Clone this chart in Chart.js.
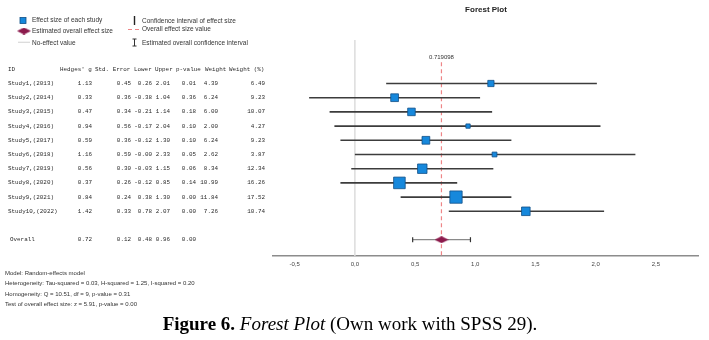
<!DOCTYPE html>
<html>
<head>
<meta charset="utf-8">
<script src="https://cdn.jsdelivr.net/npm/chart.js@4.4.1/dist/chart.umd.min.js"></script>
<style>
    html, body { margin: 0; padding: 0; background: #fff; }
    canvas { display: block; }
</style>
</head>
<body>
<canvas id="forest-plot" width="709" height="340"></canvas>
<script>
// Study level results
const studyIds = ['Study1,(2013)', 'Study2,(2014)', 'Study3,(2015)', 'Study4,(2016)', 'Study5,(2017)',
    'Study6,(2018)', 'Study7,(2019)', 'Study8,(2020)', 'Study9,(2021)', 'Study10,(2022)'];
const hedgesG = [1.13, 0.33, 0.47, 0.94, 0.59, 1.16, 0.56, 0.37, 0.84, 1.42];
const stdError = [0.45, 0.36, 0.34, 0.56, 0.36, 0.59, 0.30, 0.26, 0.24, 0.33];
const ciLower = [0.26, -0.38, -0.21, -0.17, -0.12, -0.00, -0.03, -0.12, 0.38, 0.78];
const ciUpper = [2.01, 1.04, 1.14, 2.04, 1.30, 2.33, 1.15, 0.85, 1.30, 2.07];
const pValues = [0.01, 0.36, 0.18, 0.10, 0.10, 0.05, 0.06, 0.14, 0.00, 0.00];
const weights = [4.39, 6.24, 6.00, 2.00, 6.24, 2.62, 8.34, 10.99, 11.84, 7.26];
const weightPct = [6.49, 9.23, 10.07, 4.27, 9.23, 3.87, 12.34, 16.26, 17.52, 10.74];

// Pooled (random-effects) estimate
const overallG = 0.72;
const overallSE = 0.12;
const overallLower = 0.48;
const overallUpper = 0.96;
const overallP = 0.00;
const overallLine = 0.719098;

const xTicks = [-0.5, 0, 0.5, 1.0, 1.5, 2.0, 2.5];
const tableHeaders = ['ID', "Hedges' g", 'Std. Error', 'Lower', 'Upper', 'p-value', 'Weight', 'Weight (%)'];
const modelNotes = [
    'Model: Random-effects model',
    'Heterogeneity: Tau-squared = 0.03, H-squared = 1.25, I-squared = 0.20',
    'Homogeneity: Q = 10.51, df = 9, p-value = 0.31',
    'Test of overall effect size: z = 5.91, p-value = 0.00'
];

const OVERALL_ROW = 12;
const Y_MIN = -2.063;
const Y_MAX = 13.148;

function fmt(v) {
    return (Object.is(v, -0) ? '-' : '') + v.toFixed(2);
}

// wide diamond for the pooled estimate
function makeDiamond(w, h, color) {
    const c = document.createElement('canvas');
    c.width = w;
    c.height = h;
    const g = c.getContext('2d');
    g.fillStyle = color;
    g.beginPath();
    g.moveTo(0, h / 2);
    g.lineTo(w / 2, 0);
    g.lineTo(w, h / 2);
    g.lineTo(w / 2, h);
    g.closePath();
    g.fill();
    return c;
}

const diamond = makeDiamond(14, 7, '#8c1a4c');

const datasets = [];

// squares, sized by weight
datasets.push({
    label: 'Effect size',
    data: hedgesG.map((g, i) => ({ x: g, y: i + 1 })),
    pointStyle: 'rect',
    pointRadius: weights.map(w => (2.7 + 0.81 * w) / Math.SQRT2),
    pointBackgroundColor: '#1688dc',
    pointBorderColor: '#114f86',
    pointBorderWidth: 0.8,
    showLine: false,
    order: 0
});

// pooled diamond
datasets.push({
    label: 'Overall',
    data: [{ x: overallG, y: OVERALL_ROW }],
    pointStyle: diamond,
    pointRadius: 7,
    showLine: false,
    order: 0
});

// confidence intervals
studyIds.forEach((id, i) => {
    datasets.push({
        label: id,
        data: [{ x: ciLower[i], y: i + 1 }, { x: ciUpper[i], y: i + 1 }],
        showLine: true,
        borderColor: '#3c3c3c',
        borderWidth: 1.6,
        pointRadius: 0,
        order: 2
    });
});

datasets.push({
    label: 'Overall CI',
    data: [{ x: overallLower, y: OVERALL_ROW }, { x: overallUpper, y: OVERALL_ROW }],
    showLine: true,
    borderColor: '#8a8a8a',
    borderWidth: 1.2,
    pointStyle: 'line',
    pointRotation: 90,
    pointRadius: 2.5,
    pointBorderColor: '#333',
    pointBorderWidth: 1.2,
    order: 1
});

// reference lines
datasets.push({
    label: 'No effect',
    data: [{ x: 0, y: Y_MIN }, { x: 0, y: Y_MAX }],
    showLine: true,
    borderColor: '#dcdcdc',
    borderWidth: 1.5,
    pointRadius: 0,
    order: 5
});

datasets.push({
    label: 'Overall value',
    data: [{ x: overallLine, y: -0.5 }, { x: overallLine, y: Y_MAX }],
    showLine: true,
    borderColor: '#ee8587',
    borderWidth: 1.2,
    borderDash: [4, 3],
    pointRadius: 0,
    order: 3
});

const sans = '"Liberation Sans", Arial, sans-serif';
const mono = '"Liberation Mono", "Courier New", monospace';

const forestText = {
    id: 'forestText',
    afterDraw(chart) {
        const ctx = chart.ctx;
        const xs = chart.scales.x;
        const ys = chart.scales.y;
        ctx.save();

        // title
        ctx.fillStyle = '#222';
        ctx.font = 'bold 8px ' + sans;
        ctx.textAlign = 'center';
        ctx.textBaseline = 'middle';
        ctx.fillText('Forest Plot', 486, 9.5);

        // legend
        ctx.font = '6.5px ' + sans;
        ctx.textAlign = 'left';
        ctx.fillStyle = '#333';
        ctx.fillText('Effect size of each study', 32, 20.7);
        ctx.fillText('Estimated overall effect size', 32, 31);
        ctx.fillText('No-effect value', 32, 43.3);
        ctx.fillText('Confidence interval of effect size', 142, 21);
        ctx.fillText('Overall effect size value', 142, 29.5);
        ctx.fillText('Estimated overall confidence interval', 142, 43.3);

        ctx.fillStyle = '#1688dc';
        ctx.strokeStyle = '#114f86';
        ctx.lineWidth = 0.8;
        ctx.fillRect(20, 17.5, 6, 6);
        ctx.strokeRect(20, 17.5, 6, 6);
        ctx.drawImage(diamond, 17, 27.5);

        ctx.strokeStyle = '#d8d8d8';
        ctx.lineWidth = 1.2;
        ctx.beginPath();
        ctx.moveTo(18, 42.3);
        ctx.lineTo(30, 42.3);
        ctx.stroke();

        ctx.strokeStyle = '#222';
        ctx.lineWidth = 1.4;
        ctx.beginPath();
        ctx.moveTo(134.5, 16);
        ctx.lineTo(134.5, 25);
        ctx.stroke();

        ctx.strokeStyle = '#ee8587';
        ctx.lineWidth = 1;
        ctx.setLineDash([4, 3]);
        ctx.beginPath();
        ctx.moveTo(128, 29.5);
        ctx.lineTo(141, 29.5);
        ctx.stroke();
        ctx.setLineDash([]);

        ctx.strokeStyle = '#333';
        ctx.lineWidth = 1;
        ctx.beginPath();
        ctx.moveTo(134.5, 39);
        ctx.lineTo(134.5, 46);
        ctx.moveTo(132.5, 39);
        ctx.lineTo(136.5, 39);
        ctx.moveTo(132.5, 46);
        ctx.lineTo(136.5, 46);
        ctx.stroke();

        // value of the pooled estimate above its line
        ctx.fillStyle = '#333';
        ctx.font = '6px ' + sans;
        ctx.textAlign = 'center';
        ctx.fillText(String(overallLine), xs.getPixelForValue(overallLine), ys.getPixelForValue(-0.86));

        // results table
        ctx.font = '5.9px ' + mono;
        ctx.fillStyle = '#2a2a2a';
        ctx.textAlign = 'left';
        const headerX = [8, 60, 95, 134, 155, 176, 205, 229];
        const hy = ys.getPixelForValue(0);
        tableHeaders.forEach((h, k) => ctx.fillText(h, headerX[k], hy));

        const colRight = [92, 131, 152, 170, 196, 218, 265];
        const drawRow = (label, labelX, vals, y) => {
            ctx.textAlign = 'left';
            ctx.fillText(label, labelX, y);
            ctx.textAlign = 'right';
            vals.forEach((v, k) => ctx.fillText(v, colRight[k], y));
        };
        studyIds.forEach((id, i) => {
            drawRow(id, 8, [fmt(hedgesG[i]), fmt(stdError[i]), fmt(ciLower[i]), fmt(ciUpper[i]),
                fmt(pValues[i]), fmt(weights[i]), fmt(weightPct[i])], ys.getPixelForValue(i + 1));
        });
        drawRow('Overall', 10, [fmt(overallG), fmt(overallSE), fmt(overallLower), fmt(overallUpper),
            fmt(overallP)], ys.getPixelForValue(OVERALL_ROW));

        // model notes
        ctx.font = '6px ' + sans;
        ctx.textAlign = 'left';
        ctx.fillStyle = '#333';
        modelNotes.forEach((t, k) => ctx.fillText(t, 5, 273 + k * 10.6));

        // caption
        ctx.fillStyle = '#000';
        ctx.textBaseline = 'alphabetic';
        const serif = '"Liberation Serif", "Times New Roman", serif';
        const parts = [
            { t: 'Figure 6.', f: 'bold 19px ' + serif },
            { t: ' ', f: '19px ' + serif },
            { t: 'Forest Plot', f: 'italic 19px ' + serif },
            { t: ' (Own work with SPSS 29).', f: '19px ' + serif }
        ];
        let total = 0;
        parts.forEach(p => { ctx.font = p.f; p.w = ctx.measureText(p.t).width; total += p.w; });
        let cx = 350 - total / 2;
        parts.forEach(p => { ctx.font = p.f; ctx.fillText(p.t, cx, 330); cx += p.w; });

        ctx.restore();
    }
};

new Chart(document.getElementById('forest-plot').getContext('2d'), {
    type: 'scatter',
    data: { datasets: datasets },
    options: {
        responsive: false,
        animation: false,
        layout: { padding: { left: 273, right: 11, top: 40, bottom: 0 } },
        plugins: {
            legend: { display: false },
            tooltip: { enabled: false },
            title: { display: false }
        },
        scales: {
            x: {
                type: 'linear',
                min: -0.68,
                max: 2.85,
                grid: { display: false, drawTicks: false },
                border: { display: true, color: '#8c8c8c', width: 1.4 },
                afterBuildTicks: s => { s.ticks = xTicks.map(v => ({ value: v })); },
                afterFit: s => { s.height = 84; },
                ticks: {
                    autoSkip: false,
                    maxRotation: 0,
                    padding: 5,
                    color: '#444',
                    font: { family: sans, size: 6 },
                    callback: v => v.toFixed(1).replace('.', ',')
                }
            },
            y: {
                type: 'linear',
                display: false,
                reverse: true,
                min: Y_MIN,
                max: Y_MAX
            }
        }
    },
    plugins: [forestText]
});
</script>
</body>
</html>
